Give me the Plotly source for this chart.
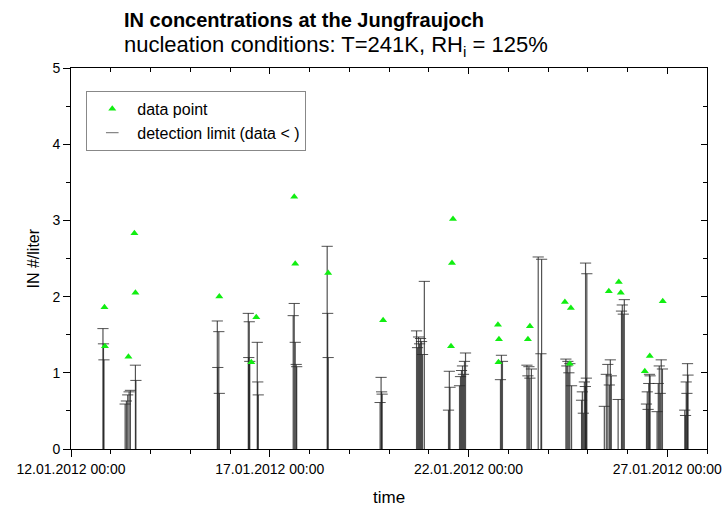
import pandas as pd
import plotly.graph_objects as go

START = pd.Timestamp("2012-01-12 00:00")

# data points: time (days since 12.01.2012 00:00) and IN concentration (#/liter)
pt_days = [0.842, 0.854, 1.445, 1.595, 1.621, 3.731, 4.535, 4.661, 5.616, 5.641,
           6.470, 7.852, 9.560, 9.585, 9.610, 10.741, 10.766, 10.754, 11.495, 11.545,
           12.425, 12.550, 12.575, 13.530, 13.781, 13.832, 14.435, 14.560, 14.887]
pt_vals = [1.86, 1.35, 1.21, 2.83, 2.05, 2.00, 1.14, 1.73, 3.31, 2.43,
           2.31, 1.69, 1.35, 2.44, 3.02, 1.63, 1.44, 1.14, 1.44, 1.61,
           1.93, 1.12, 1.85, 2.07, 2.19, 2.05, 1.02, 1.22, 1.94]

# detection limits (data below): time (days) and limit value (#/liter)
dl_days = [0.804, 0.817, 0.829, 1.362, 1.394, 1.427, 1.462, 1.495, 1.621, 1.633,
           3.681, 3.693, 3.719, 3.731, 4.460, 4.472, 4.485, 4.497, 4.686, 4.698,
           4.711, 5.590, 5.616, 5.641, 5.666, 5.678, 6.445, 6.457, 6.470, 7.776,
           7.801, 7.814, 7.827, 8.693, 8.719, 8.744, 8.769, 8.794, 8.819, 8.844,
           8.889, 9.497, 9.518, 9.535, 9.774, 9.799, 9.824, 9.849, 9.874, 9.899,
           9.925, 10.804, 10.829, 10.854, 11.470, 11.495, 11.520, 11.545, 11.583, 11.754,
           11.822, 11.839, 12.450, 12.475, 12.500, 12.525, 12.550, 12.593, 12.844, 12.864,
           12.889, 12.915, 12.940, 12.945, 12.965, 12.977, 13.417, 13.467, 13.505, 13.543,
           13.568, 13.593, 13.764, 13.849, 13.869, 13.894, 13.920, 14.477, 14.497, 14.518,
           14.535, 14.553, 14.568, 14.744, 14.774, 14.799, 14.824, 14.849, 14.879, 15.440,
           15.460, 15.477, 15.495, 15.510, 15.523]
dl_vals = [1.58, 1.38, 1.17, 0.59, 0.63, 0.71, 0.75, 0.77, 1.10, 0.90,
           1.68, 1.07, 1.54, 0.73, 1.78, 1.20, 1.67, 1.15, 1.40, 0.88,
           0.71, 1.75, 1.91, 1.40, 1.11, 1.08, 2.66, 1.78, 1.20, 0.61,
           0.94, 0.75, 0.72, 1.55, 1.33, 1.47, 1.38, 1.45, 1.41, 1.24,
           2.20, 0.51, 1.02, 0.81, 0.83, 0.95, 1.03, 1.09, 0.98, 1.15,
           1.26, 0.91, 1.23, 1.15, 1.10, 0.96, 1.08, 0.93, 1.05, 2.52,
           1.25, 2.49, 1.18, 1.09, 1.15, 1.00, 1.12, 0.83, 0.64, 0.75,
           0.47, 0.88, 0.82, 2.44, 0.93, 2.30, 0.56, 0.98, 1.11, 0.84,
           1.17, 0.96, 0.65, 1.81, 1.89, 1.77, 1.96, 0.59, 0.75, 0.52,
           0.86, 0.98, 0.96, 0.49, 0.86, 1.09, 0.73, 1.17, 1.05, 0.51,
           0.44, 0.88, 0.73, 1.12, 0.97]

pt_t = [START + pd.Timedelta(days=d) for d in pt_days]
dl_t = [START + pd.Timedelta(days=d) for d in dl_days]
X_RANGE = [START, START + pd.Timedelta(days=16)]
Y_RANGE = [0, 5]

cap_color = "rgba(40,40,40,0.8)"
fig = go.Figure()
fig.add_trace(go.Scatter(
    x=dl_t, y=dl_vals, mode="markers", name="detection limit (data < )", showlegend=False,
    marker=dict(symbol="line-ew", size=8, line=dict(width=1, color=cap_color)),
    error_y=dict(type="data", symmetric=False, array=[0] * len(dl_vals),
                 arrayminus=dl_vals, width=0, thickness=1.2, color="rgba(25,25,25,0.75)"),
))
# legend-only entry for the detection limit symbol
fig.add_trace(go.Scatter(
    x=[None], y=[None], mode="markers", name="detection limit (data < )",
    marker=dict(symbol="line-ew", size=9, line=dict(width=1.2, color="#888888")),
))
fig.add_trace(go.Scatter(
    x=pt_t, y=pt_vals, mode="markers", name="data point",
    marker=dict(symbol="triangle-up", size=7, color="#11ee11", line=dict(width=0)),
))
# empty trace to hold the top/right (inward tick) frame axes
fig.add_trace(go.Scatter(x=[None], y=[None], xaxis="x2", yaxis="y2",
                         showlegend=False, hoverinfo="skip"))

font = "Liberation Sans, Arial, sans-serif"
fig.update_layout(
    width=727, height=508,
    margin=dict(l=71, r=20, t=68, b=59),
    paper_bgcolor="white", plot_bgcolor="white",
    font=dict(family=font, size=14, color="black"),
    showlegend=True,
    legend=dict(x=0.024, y=0.94, xanchor="left", yanchor="top",
                bordercolor="#888888", borderwidth=1, bgcolor="white",
                font=dict(size=16), traceorder="reversed",
                itemwidth=40, tracegroupgap=0),
    xaxis=dict(
        range=X_RANGE,
        tickformat="%d.%m.%Y %H:%M", dtick=5 * 86400000, tick0=START,
        ticks="outside", ticklen=7, tickwidth=1, tickcolor="black",
        showline=True, linecolor="black", linewidth=1, mirror=True,
        showgrid=False, zeroline=False, automargin=False,
        minor=dict(dtick=86400000, ticks="outside", ticklen=4, tickcolor="black", showgrid=False),
        tickfont=dict(size=14),
    ),
    yaxis=dict(
        range=Y_RANGE, dtick=1,
        ticks="outside", ticklen=7, tickwidth=1, tickcolor="black",
        showline=True, linecolor="black", linewidth=1, mirror=True,
        showgrid=False, zeroline=False, automargin=False,
        minor=dict(dtick=0.5, ticks="outside", ticklen=4, tickcolor="black", showgrid=False),
        tickfont=dict(size=14),
    ),
    xaxis2=dict(
        range=X_RANGE, overlaying="x", side="top", anchor="y2", type="date",
        dtick=5 * 86400000, tick0=START, showticklabels=False,
        ticks="inside", ticklen=6, tickwidth=1, tickcolor="black",
        showline=False, showgrid=False, zeroline=False, automargin=False,
        minor=dict(dtick=86400000, ticks="inside", ticklen=4, tickcolor="black", showgrid=False),
    ),
    yaxis2=dict(
        range=Y_RANGE, overlaying="y", side="right", anchor="x2",
        dtick=1, showticklabels=False,
        ticks="inside", ticklen=6, tickwidth=1, tickcolor="black",
        showline=False, showgrid=False, zeroline=False, automargin=False,
        minor=dict(dtick=0.5, ticks="inside", ticklen=4, tickcolor="black", showgrid=False),
    ),
    annotations=[
        dict(text="<b>IN concentrations at the Jungfraujoch</b>", xref="paper", yref="paper",
             x=0.08, y=1.0, xanchor="left", yanchor="bottom", yshift=35, showarrow=False,
             font=dict(size=20, family=font, color="black")),
        dict(text="nucleation conditions: T=241K, RH<sub>i</sub> = 125%", xref="paper", yref="paper",
             x=0.08, y=1.0, xanchor="left", yanchor="bottom", yshift=6, showarrow=False,
             font=dict(size=22, family=font, color="black")),
        dict(text="time", xref="paper", yref="paper", x=0.5, y=0, xanchor="center",
             yanchor="middle", yshift=-48, showarrow=False,
             font=dict(size=17, family=font, color="black")),
        dict(text="IN #/liter", xref="paper", yref="paper", x=0, y=0.5, xanchor="center",
             yanchor="middle", xshift=-38, textangle=-90, showarrow=False,
             font=dict(size=16, family=font, color="black")),
    ],
)

fig.write_html("out.html")
